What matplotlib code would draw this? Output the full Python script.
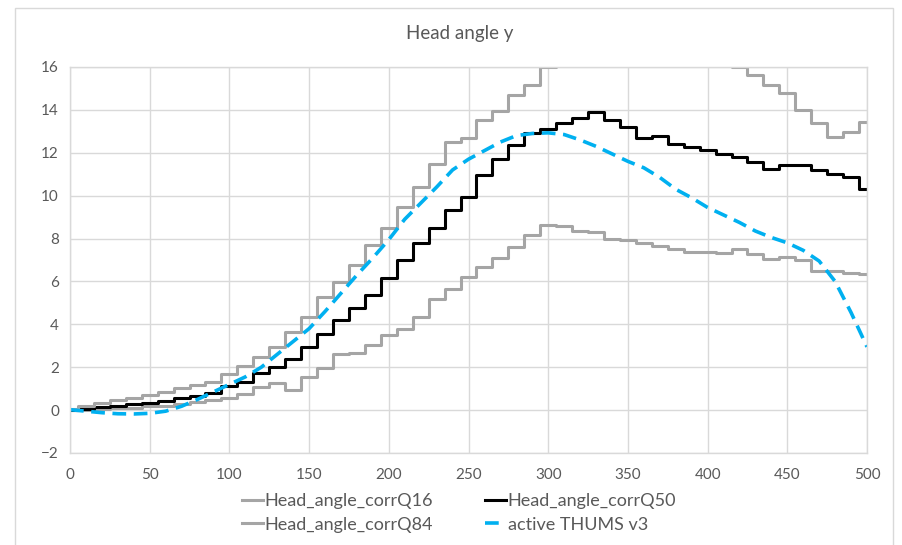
import numpy as np
import matplotlib
matplotlib.use("Agg")
import matplotlib.pyplot as plt
from matplotlib.patches import Rectangle

plt.rcParams['font.family'] = ['Lato', 'DejaVu Sans']

# time axis, one sample every 10 units
t = np.arange(0, 501, 10)

q16 = [0.0, 0.02, 0.05, 0.1, 0.12, 0.18, 0.2, 0.3, 0.4, 0.45,
       0.58, 0.75, 1.1, 1.25, 0.93, 1.55, 1.95, 2.6, 2.68, 3.03,
       3.5, 3.76, 4.35, 5.16, 5.63, 6.22, 6.68, 7.07, 7.61, 8.16,
       8.62, 8.58, 8.36, 8.31, 8.0, 7.93, 7.77, 7.65, 7.49, 7.38,
       7.38, 7.33, 7.49, 7.3, 7.04, 7.15, 6.99, 6.48, 6.5, 6.4, 6.34]

q50 = [0.0, 0.05, 0.15, 0.2, 0.28, 0.35, 0.42, 0.55, 0.67, 0.8,
       1.12, 1.3, 1.75, 2.0, 2.4, 2.95, 3.55, 4.22, 4.76, 5.35,
       6.14, 7.0, 7.77, 8.47, 9.32, 9.92, 10.96, 11.73, 12.35, 12.9,
       13.13, 13.37, 13.6, 13.88, 13.55, 13.2, 12.7, 12.77, 12.43, 12.25,
       12.15, 11.93, 11.78, 11.58, 11.25, 11.41, 11.45, 11.22, 11.03, 10.88, 10.33]

q84 = [0.05, 0.2, 0.31, 0.47, 0.58, 0.7, 0.85, 1.01, 1.17, 1.32,
       1.67, 2.06, 2.49, 2.95, 3.65, 4.35, 5.28, 5.98, 6.76, 7.69,
       8.47, 9.48, 10.41, 11.5, 12.51, 12.67, 13.52, 13.95, 14.69, 15.15,
       15.98, 16.6, 17.2, 17.6, 17.9, 18.0, 17.9, 17.7, 17.4, 17.0,
       16.6, 16.3, 16.0, 15.62, 15.15, 14.81, 13.99, 13.37, 12.74, 12.97, 13.44]

thums = [0.02, -0.05, -0.12, -0.17, -0.18, -0.15, -0.05, 0.18, 0.5, 0.85,
         1.2, 1.55, 2.0, 2.6, 3.2, 3.8, 4.6, 5.45, 6.3, 7.1,
         7.95, 8.9, 9.65, 10.4, 11.2, 11.7, 12.1, 12.5, 12.8, 12.9,
         12.93, 12.85, 12.6, 12.3, 11.95, 11.6, 11.3, 10.85, 10.3, 9.9,
         9.45, 9.1, 8.75, 8.35, 8.05, 7.8, 7.45, 6.95, 6.0, 4.55, 2.95]

txt = '#595959'
grid_c = '#D9D9D9'

fig = plt.figure(figsize=(9.02, 5.45), dpi=100)
# chart border like the Excel chart area
fig.patches.append(Rectangle((15/902, -0.05), 878/902, 1.05 - 8/545,
                             transform=fig.transFigure, fill=False,
                             edgecolor=grid_c, linewidth=1))
ax = fig.add_axes([70/902, 1 - 453/545, 797/902, 386/545])

l16, = ax.plot(t, q16, drawstyle='steps-mid', color='#A5A5A5', lw=2.2,
               label='Head_angle_corrQ16')
l50, = ax.plot(t, q50, drawstyle='steps-mid', color='black', lw=2.2,
               label='Head_angle_corrQ50')
l84, = ax.plot(t, q84, drawstyle='steps-mid', color='#A5A5A5', lw=2.2,
               label='Head_angle_corrQ84')
lth, = ax.plot(t, thums, color='#00B0F0', lw=2.6, dashes=(3.8, 2.1),
               label='active THUMS v3')

ax.set_xlim(0, 500)
ax.set_ylim(-2, 16)
ax.set_xticks(np.arange(0, 501, 50))
ax.set_yticks(np.arange(-2, 17, 2))
ax.grid(True, color=grid_c, lw=1)
ax.set_axisbelow(True)
for s in ax.spines.values():
    s.set_color(grid_c)
    s.set_linewidth(1)
ax.tick_params(length=0, labelsize=11, colors=txt)
ax.tick_params(axis='x', pad=11)
ax.tick_params(axis='y', pad=8)

fig.text(460/902, 1 - 33/545, 'Head angle y', ha='center', va='center',
         fontsize=13.5, color=txt)

# row-wise legend order: Q16, Q50 / Q84, THUMS
fig.legend([l16, l84, l50, lth],
           [l.get_label() for l in (l16, l84, l50, lth)],
           ncol=2, loc='center', bbox_to_anchor=(459/902, 1 - 513/545),
           frameon=False, fontsize=13, labelcolor=txt, handlelength=1.2,
           handletextpad=0.08, columnspacing=2.85, labelspacing=0.42)

plt.savefig('out.png', dpi=100)
